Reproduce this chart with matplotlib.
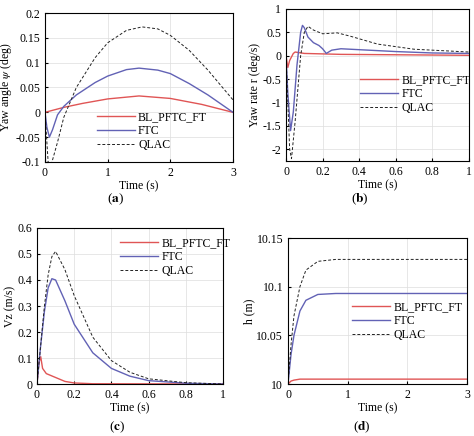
import matplotlib
matplotlib.use("Agg")
import matplotlib.pyplot as plt

plt.rcParams['font.family'] = ['Liberation Serif', 'DejaVu Serif']
plt.rcParams['font.size'] = 8.5
plt.rcParams['mathtext.fontset'] = 'stix'

labels = ['BL_PFTC_FT', 'FTC', 'QLAC']

# (a) yaw angle
a_bl_t = [0, 0.3, 0.6, 1.0, 1.5, 2.0, 2.5, 3.0]
a_bl_y = [0, 0.01, 0.018, 0.027, 0.033, 0.028, 0.016, 0.0]
a_ftc_t = [0, 0.03, 0.07, 0.12, 0.2, 0.3, 0.5, 0.8, 1.0, 1.3, 1.5, 1.8, 2.0, 2.3, 2.6, 3.0]
a_ftc_y = [0, -0.03, -0.05, -0.035, -0.005, 0.012, 0.035, 0.06, 0.073, 0.086, 0.089, 0.085, 0.078, 0.058, 0.035, 0.0]
a_q_t = [0, 0.05, 0.1, 0.2, 0.3, 0.5, 0.8, 1.0, 1.3, 1.55, 1.8, 2.0, 2.3, 2.6, 3.0]
a_q_y = [0, -0.1, -0.105, -0.06, -0.01, 0.05, 0.11, 0.14, 0.165, 0.172, 0.168, 0.155, 0.125, 0.085, 0.025]

# (b) yaw rate
b_bl_t = [0, 0.01, 0.02, 0.04, 0.05, 0.1, 0.3, 1.0]
b_bl_y = [0, -0.25, -0.1, 0.05, 0.08, 0.05, 0.03, 0.01]
b_ftc_t = [0, 0.01, 0.025, 0.04, 0.06, 0.08, 0.09, 0.1, 0.12, 0.15, 0.18, 0.2, 0.22, 0.25, 0.3, 0.4, 0.6, 0.8, 1.0]
b_ftc_y = [0, -0.8, -1.6, -1.2, -0.2, 0.5, 0.65, 0.6, 0.4, 0.28, 0.22, 0.15, 0.05, 0.12, 0.15, 0.13, 0.09, 0.06, 0.05]
b_q_t = [0, 0.01, 0.02, 0.03, 0.05, 0.08, 0.1, 0.12, 0.15, 0.2, 0.28, 0.35, 0.5, 0.7, 1.0]
b_q_y = [0, -1.0, -2.0, -2.2, -1.4, 0.0, 0.5, 0.63, 0.55, 0.47, 0.49, 0.42, 0.25, 0.14, 0.08]

# (c) Vz
c_bl_t = [0, 0.01, 0.02, 0.03, 0.05, 0.1, 0.15, 0.2, 0.3, 1.0]
c_bl_y = [0, 0.08, 0.105, 0.06, 0.04, 0.025, 0.01, 0.004, 0.001, 0.0]
c_ftc_t = [0, 0.02, 0.04, 0.06, 0.08, 0.1, 0.15, 0.2, 0.3, 0.4, 0.5, 0.6, 0.8, 1.0]
c_ftc_y = [0, 0.15, 0.28, 0.37, 0.405, 0.4, 0.32, 0.23, 0.12, 0.06, 0.03, 0.013, 0.003, 0.0]
c_q_t = [0, 0.02, 0.04, 0.06, 0.08, 0.1, 0.15, 0.2, 0.3, 0.4, 0.5, 0.6, 0.8, 1.0]
c_q_y = [0, 0.15, 0.3, 0.42, 0.49, 0.51, 0.44, 0.34, 0.18, 0.09, 0.045, 0.02, 0.005, 0.0]

# (d) h
d_bl_t = [0, 0.05, 0.1, 0.2, 3.0]
d_bl_y = [10, 10.003, 10.004, 10.005, 10.005]
d_ftc_t = [0, 0.05, 0.1, 0.2, 0.3, 0.5, 0.8, 3.0]
d_ftc_y = [10, 10.03, 10.05, 10.075, 10.086, 10.092, 10.093, 10.093]
d_q_t = [0, 0.05, 0.1, 0.2, 0.3, 0.5, 0.8, 3.0]
d_q_y = [10, 10.04, 10.07, 10.1, 10.117, 10.126, 10.128, 10.128]

W, H = 474, 436
fig = plt.figure(figsize=(W/100, H/100), dpi=100)

def ax_px(l, t, r, b):
    return fig.add_axes([l/W, 1-b/H, (r-l)/W, (b-t)/H])

styles = [dict(color='#e05555', lw=1.0, ls='-'),
          dict(color='#6262b5', lw=1.0, ls='-'),
          dict(color='#222222', lw=0.7, ls=(0, (3, 2)))]

def draw(ax, data, xlim, ylim, xt, yt, ylabel, tag, tagpos, leg_anchor):
    for (t, y), st, lb in zip(data, styles, labels):
        ax.plot(t, y, label=lb, **st)
    ax.set_xlim(*xlim); ax.set_ylim(*ylim)
    ax.set_xticks(xt); ax.set_yticks(yt)
    ax.grid(True, color='#dddddd', lw=0.5)
    ax.tick_params(direction='in', length=2, labelsize=8.5)
    ax.set_xlabel('Time (s)', fontsize=8.5, labelpad=1)
    ax.set_ylabel(ylabel, fontsize=8.5, labelpad=1)
    ax.legend(loc='upper left', bbox_to_anchor=leg_anchor, frameon=False,
              fontsize=8.5, handlelength=3.2, borderaxespad=0, labelspacing=0.15, handletextpad=0.3)
    fig.text(tagpos[0]/W, 1-tagpos[1]/H, tag, ha='center', va='center', fontsize=9.5)

ax = ax_px(45, 13, 233, 162)
draw(ax, [(a_bl_t, a_bl_y), (a_ftc_t, a_ftc_y), (a_q_t, a_q_y)], (0, 3), (-0.1, 0.2),
     [0, 1, 2, 3], [-0.1, -0.05, 0, 0.05, 0.1, 0.15, 0.2],
     r'Yaw angle $\psi$ (deg)', r'($\mathbf{a}$)', (115, 199), (0.25, 0.37))
ax.set_yticklabels(['-0.1', '-0.05', '0', '0.05', '0.1', '0.15', '0.2'])

ax = ax_px(286, 9, 469, 161)
draw(ax, [(b_bl_t, b_bl_y), (b_ftc_t, b_ftc_y), (b_q_t, b_q_y)], (0, 1), (-2.25, 1),
     [0, 0.2, 0.4, 0.6, 0.8, 1], [-2, -1.5, -1, -0.5, 0, 0.5, 1],
     'Yaw rate r (deg/s)', r'($\mathbf{b}$)', (360, 199), (0.38, 0.6))
ax.set_xticklabels(['0', '0.2', '0.4', '0.6', '0.8', '1'])
ax.set_yticklabels(['-2', '-1.5', '-1', '-0.5', '0', '0.5', '1'])

ax = ax_px(37, 228, 223, 384)
draw(ax, [(c_bl_t, c_bl_y), (c_ftc_t, c_ftc_y), (c_q_t, c_q_y)], (0, 1), (0, 0.6),
     [0, 0.2, 0.4, 0.6, 0.8, 1], [0, 0.1, 0.2, 0.3, 0.4, 0.5, 0.6],
     'Vz (m/s)', r'($\mathbf{c}$)', (117, 427), (0.42, 0.97))
ax.set_xticklabels(['0', '0.2', '0.4', '0.6', '0.8', '1'])
ax.set_yticklabels(['0', '0.1', '0.2', '0.3', '0.4', '0.5', '0.6'])

ax = ax_px(288, 238, 467, 384)
draw(ax, [(d_bl_t, d_bl_y), (d_ftc_t, d_ftc_y), (d_q_t, d_q_y)], (0, 3), (10, 10.15),
     [0, 1, 2, 3], [10, 10.05, 10.1, 10.15],
     'h (m)', r'($\mathbf{d}$)', (362, 427), (0.33, 0.6))
ax.set_yticklabels(['10', '10.05', '10.1', '10.15'])

fig.savefig('out.png', dpi=100)
